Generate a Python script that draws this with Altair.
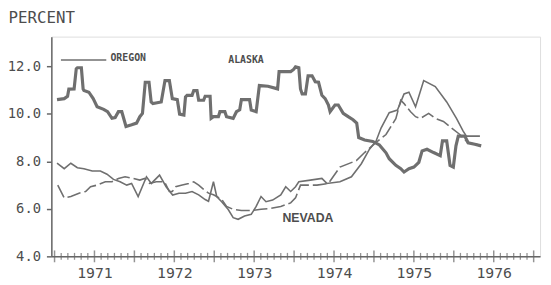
import altair as alt
import pandas as pd
import numpy as np

# ---------------- data (decimal year, percent) ----------------
ALASKA_T = [1971.031, 1971.121, 1971.163, 1971.179, 1971.245, 1971.272, 1971.286, 1971.336,
            1971.358, 1971.368, 1971.430, 1971.484, 1971.533, 1971.615, 1971.664, 1971.719,
            1971.759, 1971.800, 1971.842, 1971.895, 1971.966, 1972.027, 1972.068, 1972.101,
            1972.136, 1972.183, 1972.210, 1972.232, 1972.336, 1972.383, 1972.438, 1972.475,
            1972.537, 1972.566, 1972.620, 1972.640, 1972.660, 1972.722, 1972.743, 1972.784,
            1972.805, 1972.867, 1972.886, 1972.948, 1972.961, 1972.990, 1973.052, 1973.071,
            1973.133, 1973.154, 1973.237, 1973.278, 1973.319, 1973.340, 1973.442, 1973.463,
            1973.525, 1973.565, 1973.673, 1973.793, 1973.812, 1973.957, 1973.994, 1974.018,
            1974.059, 1974.080, 1974.101, 1974.142, 1974.175, 1974.225, 1974.265, 1974.306,
            1974.348, 1974.389, 1974.430, 1974.451, 1974.512, 1974.553, 1974.615, 1974.677,
            1974.738, 1974.784, 1974.809, 1974.883, 1974.985, 1975.068, 1975.151, 1975.191,
            1975.274, 1975.336, 1975.377, 1975.438, 1975.500, 1975.562, 1975.603, 1975.664,
            1975.747, 1975.830, 1975.858, 1975.911, 1975.953, 1975.994, 1976.027, 1976.056,
            1976.138, 1976.179, 1976.262, 1976.343]
ALASKA_V = [10.60, 10.64, 10.74, 11.04, 11.05, 11.90, 11.94, 11.94,
            11.04, 10.98, 10.91, 10.64, 10.30, 10.19, 10.09, 9.81,
            9.84, 10.09, 10.09, 9.47, 9.54, 9.61, 9.88, 10.02,
            11.33, 11.33, 10.50, 10.43, 10.50, 11.40, 11.40, 10.64,
            10.60, 9.99, 9.95, 10.71, 10.78, 10.78, 10.98, 10.98,
            10.57, 10.57, 10.74, 10.74, 9.81, 9.88, 9.88, 10.09,
            10.09, 9.88, 9.81, 10.09, 10.17, 10.60, 10.60, 10.16,
            10.09, 11.19, 11.16, 11.05, 11.78, 11.78, 11.87, 11.98,
            11.94, 11.05, 10.84, 10.84, 11.60, 11.60, 11.35, 11.33,
            10.78, 10.64, 10.37, 10.09, 10.37, 10.37, 10.02, 9.88,
            9.75, 9.61, 9.00, 8.90, 8.84, 8.69, 8.36, 8.11,
            7.83, 7.69, 7.55, 7.69, 7.76, 7.96, 8.44, 8.51,
            8.37, 8.24, 8.86, 8.86, 7.83, 7.76, 8.65, 9.06,
            9.06, 8.78, 8.72, 8.65]

OREGON_T = [1971.031, 1971.121, 1971.204, 1971.286, 1971.368, 1971.472, 1971.574, 1971.657,
            1971.738, 1971.821, 1971.904, 1971.965, 1972.047, 1972.151, 1972.212, 1972.315,
            1972.397, 1972.479, 1972.558, 1972.640, 1972.722, 1972.805, 1972.886, 1972.928,
            1972.990, 1973.031, 1973.093, 1973.175, 1973.237, 1973.299, 1973.380, 1973.463,
            1973.525, 1973.586, 1973.648, 1973.731, 1973.833, 1973.895, 1973.957, 1974.018,
            1974.059, 1974.204, 1974.348, 1974.410, 1974.574, 1974.718, 1974.842, 1974.944,
            1975.027, 1975.089, 1975.191, 1975.294, 1975.377, 1975.438, 1975.521, 1975.623,
            1975.768, 1975.911, 1976.035, 1976.117, 1976.158, 1976.327]
OREGON_V = [7.92, 7.69, 7.92, 7.73, 7.69, 7.59, 7.59, 7.46,
            7.24, 7.14, 7.00, 7.07, 6.52, 7.35, 7.07, 7.42,
            6.93, 6.58, 6.66, 6.66, 6.73, 6.59, 6.39, 6.32,
            7.14, 6.52, 6.30, 5.97, 5.63, 5.56, 5.70, 5.77,
            6.10, 6.52, 6.30, 6.37, 6.59, 6.93, 6.73, 6.93,
            7.14, 7.21, 7.28, 7.07, 7.14, 7.35, 7.90, 8.51,
            8.86, 9.40, 10.05, 10.16, 10.84, 10.91, 10.30, 11.40,
            11.15, 10.50, 9.80, 9.27, 9.06, 9.06]

NEVADA_T = [1971.040, 1971.059, 1971.121, 1971.204, 1971.306, 1971.389, 1971.451, 1971.533,
            1971.636, 1971.718, 1971.800, 1971.883, 1971.985, 1972.068, 1972.130, 1972.191,
            1972.274, 1972.377, 1972.438, 1972.475, 1972.516, 1972.599, 1972.681, 1972.743,
            1972.805, 1972.867, 1972.928, 1972.990, 1973.031, 1973.093, 1973.154, 1973.237,
            1973.340, 1973.463, 1973.586, 1973.710, 1973.833, 1973.957, 1974.018, 1974.080,
            1974.286, 1974.430, 1974.574, 1974.780, 1974.883, 1975.027, 1975.151, 1975.274,
            1975.336, 1975.377, 1975.459, 1975.521, 1975.583, 1975.685, 1975.768, 1975.870,
            1975.973, 1976.076, 1976.179, 1976.282, 1976.327]
NEVADA_V = [7.00, 6.87, 6.46, 6.52, 6.66, 6.73, 6.93, 7.00,
            7.14, 7.14, 7.28, 7.35, 7.28, 7.21, 7.28, 7.07,
            7.14, 7.14, 6.73, 6.73, 6.93, 7.00, 7.07, 7.14,
            7.00, 6.82, 6.66, 6.59, 6.52, 6.40, 6.10, 5.98,
            5.93, 5.93, 5.98, 6.02, 6.10, 6.25, 6.46, 7.00,
            7.00, 7.07, 7.76, 8.03, 8.37, 8.80, 9.13, 9.80,
            10.57, 10.43, 10.09, 9.88, 9.81, 10.02, 9.81, 9.68,
            9.40, 9.13, 8.78, 8.72, 8.70]

YEAR_LABEL_POS = [1971.5, 1972.5, 1973.5, 1974.5, 1975.5, 1976.5]
Y_TICKS = [4, 6, 8, 10, 12]

LABELS = ["OREGON", "ALASKA"]
LABEL_T = [1971.70, 1973.175]
LABEL_V = [12.33, 12.25]
NEVADA_LABEL = ["NEVADA"]
NEVADA_LABEL_T = [1973.854]
NEVADA_LABEL_V = [5.62]
KEY_T = [1971.08]
KEY_T2 = [1971.648]
KEY_V = [12.27]

# ---------------- styles ----------------
LINE = "#6f6f6f"
TXT = "#4d4d4d"
AX = "#666666"
MONO = "DejaVu Sans Mono"


def series(name, t, v):
    return pd.DataFrame({"t": t, "v": v, "series": name, "i": range(len(t))})

alaska = series("ALASKA", ALASKA_T, ALASKA_V)
oregon = series("OREGON", OREGON_T, OREGON_V)
nevada = series("NEVADA", NEVADA_T, NEVADA_V)

months = np.round(np.arange(1971.0, 1977.0 + 1e-9, 1 / 12), 4)
is_major = np.isclose((months * 2) % 1, 0, atol=1e-3)
ticks = pd.DataFrame({"t": months, "v": 4.0, "major": is_major})

X = alt.X("t:Q",
          scale=alt.Scale(domain=[1970.96, 1977.08], nice=False, zero=False),
          axis=alt.Axis(values=YEAR_LABEL_POS, labelExpr="floor(datum.value)",
                        ticks=False, grid=False, title=None, labelFlush=False,
                        labelFont=MONO, labelFontSize=15, labelColor=TXT,
                        labelPadding=9, domainColor=AX, domainWidth=1.5))
Y = alt.Y("v:Q",
          scale=alt.Scale(domain=[4, 13.25], nice=False, zero=False),
          axis=alt.Axis(values=Y_TICKS, format=".1f", tickSize=5, tickColor=AX,
                        tickWidth=1.5, labelPadding=6, labelFont=MONO,
                        labelFontSize=14, labelColor=TXT, grid=False,
                        domainColor=AX, domainWidth=1.5,
                        title="PERCENT", titleAngle=0, titleX=-44, titleY=-14,
                        titleAlign="left", titleBaseline="alphabetic",
                        titleFont=MONO, titleFontSize=16, titleFontWeight="normal",
                        titleColor=TXT))

alaska_line = alt.Chart(alaska).mark_line(color=LINE, strokeWidth=3.2).encode(
    x=X, y=Y, order="i:Q")
oregon_line = alt.Chart(oregon).mark_line(color=LINE, strokeWidth=1.6).encode(
    x=X, y=Y, order="i:Q")
nevada_line = alt.Chart(nevada).mark_line(color=LINE, strokeWidth=1.6,
                                          strokeDash=[14, 4]).encode(
    x=X, y=Y, order="i:Q")

minor_ticks = alt.Chart(ticks).transform_filter("!datum.major").mark_tick(
    orient="vertical", size=7, thickness=1.3, color=AX).encode(x=X, y=Y)
major_ticks = alt.Chart(ticks).transform_filter("datum.major").mark_tick(
    orient="vertical", size=12, thickness=1.5, color=AX).encode(x=X, y=Y)

key_df = pd.DataFrame({"t": KEY_T, "t2": KEY_T2, "v": KEY_V})
key_rule = alt.Chart(key_df).mark_rule(color=LINE, strokeWidth=1.5).encode(
    x=X, x2="t2:Q", y=Y)

lab_df = pd.DataFrame({"t": LABEL_T, "v": LABEL_V, "label": LABELS})
small_labels = alt.Chart(lab_df).mark_text(
    align="left", baseline="middle", font=MONO, fontSize=10, fontWeight="bold",
    color=TXT).encode(x=X, y=Y, text="label:N")

nev_df = pd.DataFrame({"t": NEVADA_LABEL_T, "v": NEVADA_LABEL_V, "label": NEVADA_LABEL})
nev_label = alt.Chart(nev_df).mark_text(
    align="left", baseline="middle", font="Liberation Sans", fontSize=12.5,
    fontWeight="bold", color=TXT).encode(x=X, y=Y, text="label:N")

chart = alt.layer(
    minor_ticks, major_ticks, oregon_line, nevada_line, alaska_line,
    key_rule, small_labels, nev_label
).properties(
    width=496, height=223,
    padding={"left": 44, "top": 27, "right": 3, "bottom": 26},
    autosize=alt.AutoSizeParams(type="none"),
).configure_view(stroke=None).configure(background="white")

chart.save("out.html", embed_options={"renderer": "svg", "actions": False})
